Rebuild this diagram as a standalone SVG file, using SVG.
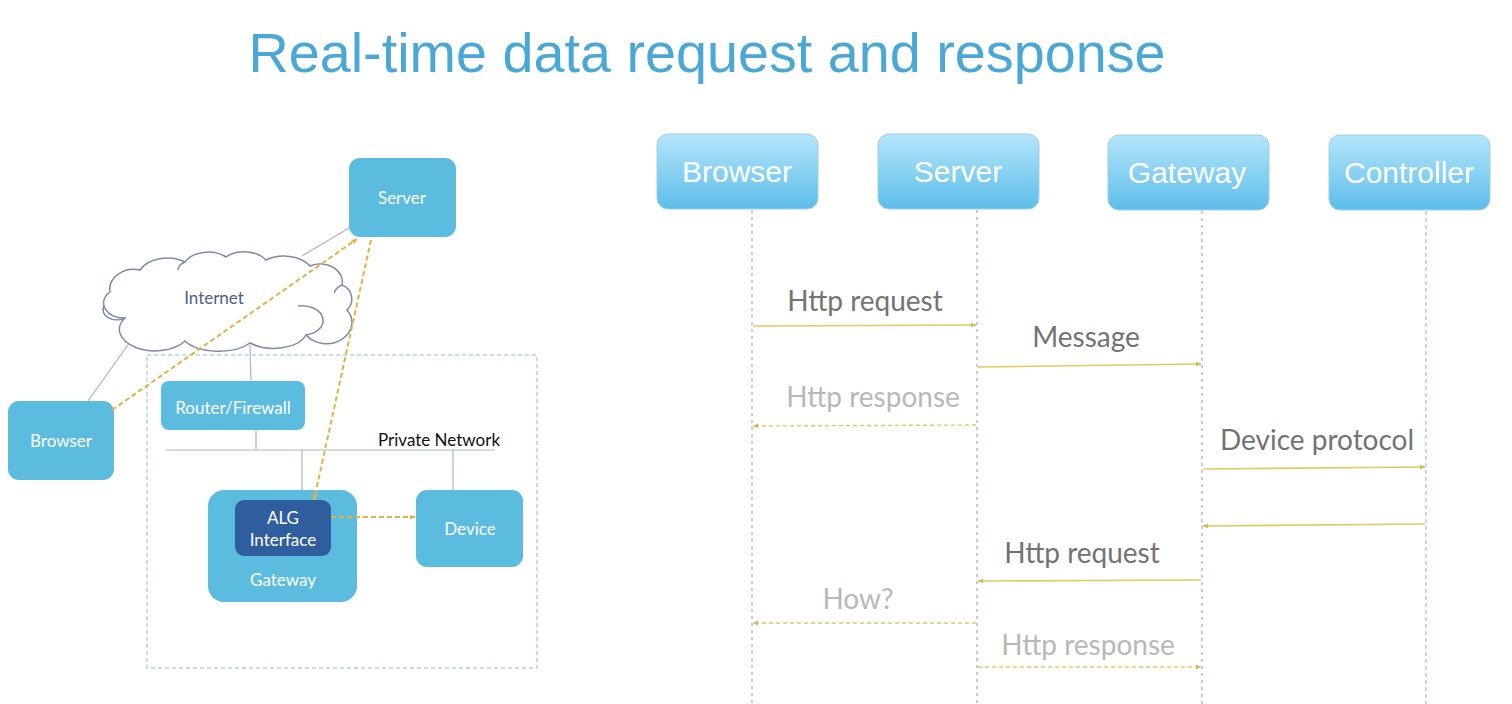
<svg xmlns="http://www.w3.org/2000/svg" width="1512" height="704" viewBox="0 0 1512 704">
<defs>
<linearGradient id="seqg" x1="0" y1="0" x2="0" y2="1">
<stop offset="0" stop-color="#b4e6fa"/>
<stop offset="1" stop-color="#5dbdea"/>
</linearGradient>
<marker id="oa" viewBox="0 0 10 10" refX="9" refY="5" markerWidth="6" markerHeight="6" orient="auto-start-reverse" markerUnits="userSpaceOnUse">
<path d="M0,1 L10,5 L0,9 z" fill="#e8b040"/>
</marker>
<marker id="sa" viewBox="0 0 10 10" refX="9" refY="5" markerWidth="6" markerHeight="6" orient="auto" markerUnits="userSpaceOnUse">
<path d="M0,1 L10,5 L0,9 z" fill="#d9b850"/>
</marker>
</defs>
<style>
.title{font-family:"Liberation Sans",Arial,sans-serif;font-size:56px;fill:#4aa8d6}
.lbox{fill:#5bbcdf}
.ltxt{font-family:Lato,"Open Sans",sans-serif;font-size:17px;fill:#ffffff;text-anchor:middle}
.conn{stroke:#a9b6c6;stroke-width:1.2;fill:none}
.flow{stroke:#e8b040;stroke-width:2;stroke-dasharray:5 3;fill:none}
.seqbox{fill:url(#seqg);stroke:#9ccfe8;stroke-width:1}
.seqtxt{font-family:"Liberation Sans",Arial,sans-serif;font-size:30px;fill:#ffffff;text-anchor:middle}
.life{stroke:#a8a0e0;stroke-width:1.2;stroke-dasharray:3 4;fill:none}
.lifec{stroke:#7ed4c8;stroke-width:1.2;stroke-dasharray:4 3;fill:none}
.msg{stroke:#e6c860;stroke-width:1.6;fill:none}
.msgd{stroke:#e6c860;stroke-width:1.4;stroke-dasharray:4 3;fill:none}
.mt{font-family:Lato,"Open Sans",sans-serif;font-size:28px;fill:#737373;text-anchor:middle}
.mtl{font-family:Lato,"Open Sans",sans-serif;font-size:28px;fill:#b8b8b8;text-anchor:middle}
</style>
<rect width="1512" height="704" fill="#ffffff"/>
<text class="title" x="707" y="72" text-anchor="middle" textLength="917" lengthAdjust="spacingAndGlyphs">Real-time data request and response</text>

<!-- Left network diagram -->
<rect x="147" y="355" width="390" height="313" fill="none" stroke="#a8d8ea" stroke-width="1.5" stroke-dasharray="4 3"/>
<g id="left-connectors">
<line class="conn" x1="349" y1="228" x2="302" y2="256"/>
<line class="conn" x1="135" y1="335" x2="88" y2="401"/>
<line class="conn" x1="250" y1="345" x2="251" y2="381"/>
<line class="conn" x1="256" y1="430" x2="256" y2="450"/>
<line class="conn" x1="166" y1="450" x2="495" y2="450"/>
<line class="conn" x1="302" y1="450" x2="302" y2="490"/>
<line class="conn" x1="453" y1="450" x2="453" y2="490"/>
</g>
<g id="cloud">
<path d="M125,318 A20,15 0 0 1 110,292 A24,20 0 0 1 140,270 A30,20 0 0 1 185,262 A26,18 0 0 1 226,257 A26,18 0 0 1 266,260 A30,20 0 0 1 310,266 A22,18 0 0 1 342,285 A15,15 0 0 1 347,310 A24,20 0 0 1 306,335 A34,19 0 0 1 250,343 A38,19 0 0 1 185,341 A30,18 0 0 1 125,318 Z" fill="#ffffff" stroke="#7b8cab" stroke-width="1.5"/>
<path d="M125,318 A14,10 0 0 1 104,306" fill="none" stroke="#7b8cab" stroke-width="1.5"/>
<path d="M306,335 A20,14 0 0 0 298,306" fill="none" stroke="#7b8cab" stroke-width="1.5"/>
<path d="M342,285 A14,14 0 0 0 334,293" fill="none" stroke="#7b8cab" stroke-width="1.5"/>
<path d="M185,262 A14,10 0 0 0 178,270" fill="none" stroke="#7b8cab" stroke-width="1.5"/>
<text x="214" y="304" font-family="Lato,'Open Sans',sans-serif" font-size="17" fill="#4f5f85" text-anchor="middle">Internet</text>
</g>
<g id="server-l"><rect class="lbox" x="349" y="158" width="107" height="79" rx="11"/><text class="ltxt" x="402" y="204">Server</text></g>
<g id="browser-l"><rect class="lbox" x="8" y="401" width="106" height="79" rx="11"/><text class="ltxt" x="61" y="447">Browser</text></g>
<g id="router-l"><rect class="lbox" x="161" y="381" width="144" height="49" rx="8"/><text class="ltxt" x="233" y="414">Router/Firewall</text></g>
<g id="gateway-l"><rect class="lbox" x="208" y="490" width="149" height="112" rx="16"/><text class="ltxt" x="283" y="586">Gateway</text></g>
<g id="alg-l"><rect x="235" y="500" width="96" height="56" rx="9" fill="#2f5e9e"/><text class="ltxt" x="283" y="524">ALG</text><text class="ltxt" x="283" y="546">Interface</text></g>
<g id="device-l"><rect class="lbox" x="416" y="490" width="107" height="77" rx="11"/><text class="ltxt" x="470" y="535">Device</text></g>
<text x="378" y="446" font-family="Lato,'Open Sans',sans-serif" font-size="17" fill="#111111">Private Network</text>
<g id="left-flows">
<line class="flow" x1="112" y1="410" x2="357" y2="239" marker-end="url(#oa)"/>
<line class="flow" x1="371" y1="240" x2="314" y2="500" marker-end="url(#oa)"/>
<line class="flow" x1="331" y1="517" x2="415" y2="517" marker-end="url(#oa)"/>
</g>

<!-- Sequence diagram -->
<g id="lifelines">
<line class="life" x1="752" y1="210" x2="752" y2="704"/>
<line class="life" x1="977" y1="210" x2="977" y2="704"/>
<line class="life" x1="1202" y1="211" x2="1202" y2="704"/>
<line class="lifec" x1="1426" y1="211" x2="1426" y2="704"/>
</g>
<g id="seq-browser"><rect class="seqbox" x="657" y="134" width="161" height="75" rx="11"/><text class="seqtxt" x="737" y="182">Browser</text></g>
<g id="seq-server"><rect class="seqbox" x="878" y="134" width="161" height="75" rx="11"/><text class="seqtxt" x="958" y="182">Server</text></g>
<g id="seq-gateway"><rect class="seqbox" x="1108" y="135" width="161" height="75" rx="11"/><text class="seqtxt" x="1187" y="183">Gateway</text></g>
<g id="seq-controller"><rect class="seqbox" x="1329" y="135" width="161" height="75" rx="11"/><text class="seqtxt" x="1409" y="183">Controller</text></g>
<g id="messages">
<line class="msg" x1="753" y1="326" x2="976" y2="325" marker-end="url(#sa)"/>
<line class="msg" x1="978" y1="367" x2="1201" y2="364" marker-end="url(#sa)"/>
<line class="msgd" x1="976" y1="425" x2="753" y2="426" marker-end="url(#sa)"/>
<line class="msg" x1="1203" y1="469" x2="1425" y2="467" marker-end="url(#sa)"/>
<line class="msg" x1="1425" y1="524" x2="1203" y2="526" marker-end="url(#sa)"/>
<line class="msg" x1="1201" y1="580" x2="978" y2="581" marker-end="url(#sa)"/>
<line class="msgd" x1="976" y1="623" x2="753" y2="623" marker-end="url(#sa)"/>
<line class="msgd" x1="978" y1="667" x2="1201" y2="667" marker-end="url(#sa)"/>
</g>
<g id="labels">
<text class="mt" x="865" y="311">Http request</text>
<text class="mt" x="1086" y="347">Message</text>
<text class="mtl" x="873" y="407">Http response</text>
<text class="mt" x="1317" y="450">Device protocol</text>
<text class="mt" x="1082" y="563">Http request</text>
<text class="mtl" x="858" y="609">How?</text>
<text class="mtl" x="1088" y="655">Http response</text>
</g>
</svg>
